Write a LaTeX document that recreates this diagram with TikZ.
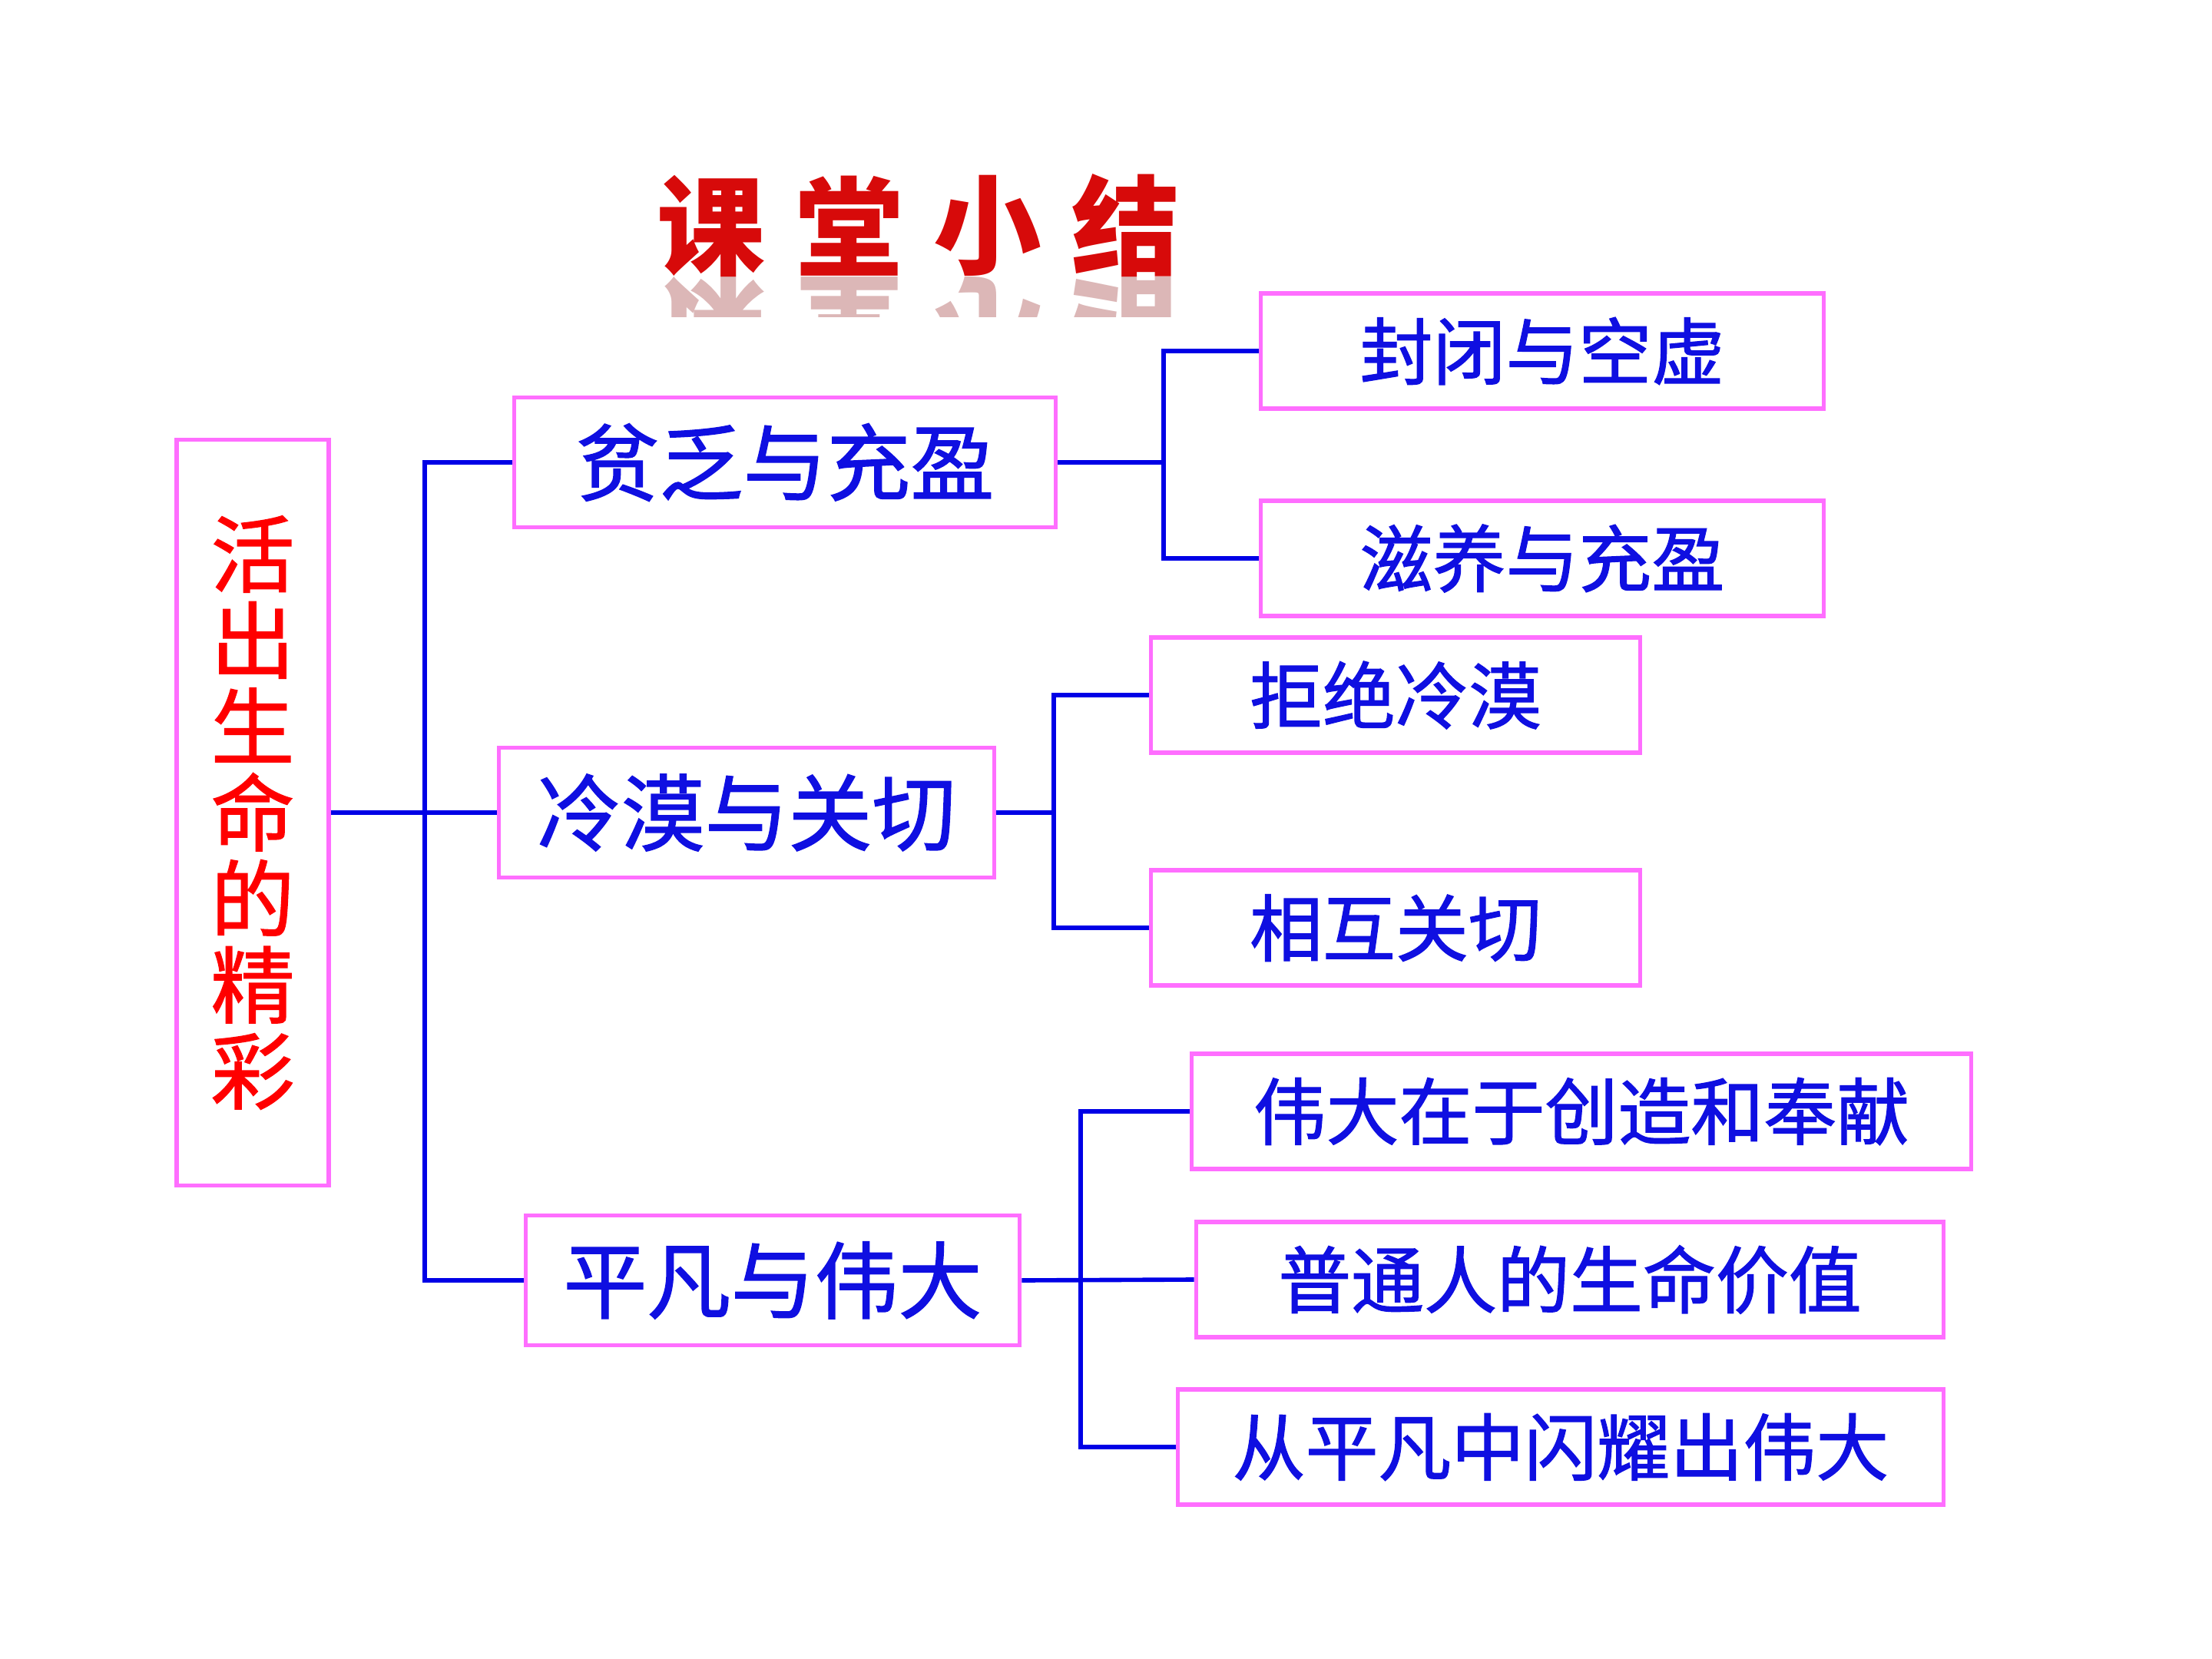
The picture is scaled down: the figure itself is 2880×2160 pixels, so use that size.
\documentclass[tikz,border=0pt]{standalone}
\usepackage{fontspec}
\newfontfamily\cjk{Noto Sans CJK SC}
\newfontfamily\cjkthick{Noto Sans CJK SC}[FakeBold=1.3]
\usetikzlibrary{fadings}
\definecolor{boxpink}{RGB}{255,110,255}
\definecolor{linkblue}{RGB}{0,0,230}
\definecolor{txtblue}{RGB}{15,15,225}
\definecolor{titlered}{RGB}{215,10,10}
\begin{document}
\begin{tikzpicture}[x=0.01cm,y=-0.01cm,
	box/.style={draw=boxpink,line width=1.5pt,fill=white,inner sep=0pt},
	lvla/.style={box,font=\cjkthick\fontsize{31}{31}\selectfont,text=txtblue,minimum height=1.69cm},
	lvlb/.style={box,font=\cjkthick\fontsize{27}{27}\selectfont,text=txtblue,minimum height=1.5cm},
	title/.style={font=\cjk\bfseries\fontsize{40}{40}\selectfont,text=titlered,inner sep=0pt},
	link/.style={draw=linkblue,line width=1.6pt}]
		\useasboundingbox (0,0) rectangle (2880,2160);
		% title with its reflection
		\foreach \c [count=\i] in {课,堂,小,结}
			\node[title] (t\i) at (746+180*\i,294) {\c};
		\begin{scope}
			\clip (840,360) rectangle (1570,412);
			\foreach \c [count=\i] in {课,堂,小,结}
				\node[title,yscale=-1,text=titlered!45!gray,opacity=0.4] (r\i) at (746+180*\i,426) {\c};
		\end{scope}
		% boxes
		\node[box,minimum width=1.98cm,minimum height=9.71cm,text=red,align=center,
			font=\cjkthick\fontsize{31}{31.9}\selectfont] (main) at (329,1058) {活\\出\\生\\命\\的\\精\\彩};
		\node[lvla,minimum width=7.04cm] (gf) at (1022,602) {贫乏与充盈};
		\node[lvla,minimum width=6.45cm] (lq) at (972,1058) {冷漠与关切};
		\node[lvla,minimum width=6.43cm] (pf) at (1006,1667) {平凡与伟大};
		\node[lvlb,minimum width=7.33cm] (fb) at (2008,457) {封闭与空虚};
		\node[lvlb,minimum width=7.33cm] (zy) at (2008,727) {滋养与充盈};
		\node[lvlb,minimum width=6.37cm] (jj) at (1817,905) {拒绝冷漠};
		\node[lvlb,minimum width=6.37cm] (xh) at (1817,1208) {相互关切};
		\node[lvlb,minimum width=10.14cm] (wd) at (2059,1447) {伟大在于创造和奉献};
		\node[lvlb,minimum width=9.73cm] (pt) at (2044,1666) {普通人的生命价值};
		\node[lvlb,minimum width=9.97cm] (cp) at (2032,1884) {从平凡中闪耀出伟大};
		% trunks
		\coordinate (tr) at (553,0);
		\coordinate (ra) at (1515,0);
		\coordinate (rb) at (1372,0);
		\coordinate (rc) at (1407,0);
		% connectors
		\draw[link] (main.east) -- (lq.west);
		\draw[link] (gf.west) -- (gf.west -| tr) -- (pf.west -| tr) -- (pf.west);
		\draw[link] (gf.east) -- (gf.east -| ra);
		\draw[link] (fb.west) -- (fb.west -| ra) -- (zy.west -| ra) -- (zy.west);
		\draw[link] (lq.east) -- (lq.east -| rb);
		\draw[link] (jj.west) -- (jj.west -| rb) -- (xh.west -| rb) -- (xh.west);
		\draw[link] (pf.east) -- (pt.west);
		\draw[link] (wd.west) -- (wd.west -| rc) -- (cp.west -| rc) -- (cp.west);
\end{tikzpicture}
\end{document}
